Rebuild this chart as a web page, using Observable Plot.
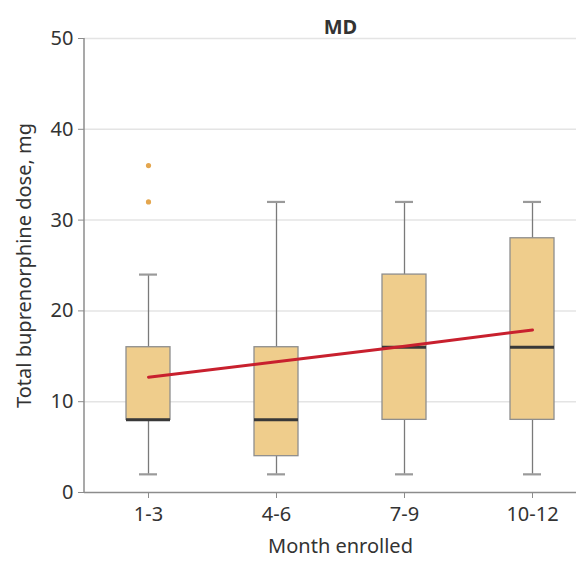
<!DOCTYPE html>
<html>
<head>
<meta charset="utf-8">
<script src="https://cdn.jsdelivr.net/npm/d3@7"></script>
<script src="https://cdn.jsdelivr.net/npm/@observablehq/plot@0.6"></script>
<style>
  body { margin: 0; background: #fff; overflow: hidden; }
</style>
</head>
<body>
<div id="chart"></div>
<script>
// Buprenorphine dose by enrollment quarter, MD prescribers
const months = ["1-3", "4-6", "7-9", "10-12"];
const whiskerLow = [2, 2, 2, 2];
const q1 = [8, 4, 8, 8];
const median = [8, 8, 16, 16];
const q3 = [16, 16, 24, 28];
const whiskerHigh = [24, 32, 32, 32];
const outlierMonth = ["1-3", "1-3"];
const outlierDose = [36, 32];
const trend = [12.7, 14.4, 16.1, 17.9];
const yTicks = [0, 10, 20, 30, 40, 50];

const boxes = months.map((m, i) => ({
  month: m, lo: whiskerLow[i], q1: q1[i], med: median[i], q3: q3[i], hi: whiskerHigh[i], trend: trend[i]
}));
const outliers = outlierMonth.map((m, i) => ({month: m, dose: outlierDose[i]}));

const FONT = "'Noto Sans', 'Open Sans', sans-serif";
const TEXT = "#333";
const AXIS = "#8c8c8c";

// vertical axis line along the left edge of the frame
const leftAxisLine = (index, scales, values, dims) => {
  const line = document.createElementNS("http://www.w3.org/2000/svg", "line");
  line.setAttribute("x1", dims.marginLeft);
  line.setAttribute("x2", dims.marginLeft);
  line.setAttribute("y1", dims.marginTop);
  line.setAttribute("y2", dims.height - dims.marginBottom);
  line.setAttribute("stroke", AXIS);
  line.setAttribute("stroke-width", 1.5);
  return line;
};

const chart = Plot.plot({
  width: 576,
  height: 562,
  marginLeft: 84,
  marginRight: 0,
  marginTop: 38,
  marginBottom: 70,
  style: {fontFamily: FONT, fontSize: "20px", color: TEXT, background: "#fff", overflow: "hidden"},
  x: {type: "band", domain: months, range: [84, 596], paddingInner: 0.656, paddingOuter: 0.328, axis: null},
  y: {domain: [0, 50], axis: null},
  marks: [
    Plot.ruleY(yTicks.slice(1), {stroke: "#e4e4e4", strokeWidth: 1.5}),
    Plot.ruleY([0], {stroke: AXIS, strokeWidth: 1.5}),
    leftAxisLine,
    Plot.axisY(yTicks, {tickSize: 6, tickPadding: 5, stroke: AXIS, fill: TEXT, fontSize: 20, label: null}),
    Plot.axisX({tickSize: 6, tickPadding: 8, stroke: AXIS, fill: TEXT, fontSize: 20, label: null}),
    // whiskers and caps
    Plot.ruleX(boxes, {x: "month", y1: "lo", y2: "hi", stroke: "#7a7a7a", strokeWidth: 1.3}),
    Plot.tickY(boxes, {x: "month", y: "lo", stroke: "#9a9a9a", strokeWidth: 2.2, insetLeft: 13, insetRight: 13}),
    Plot.tickY(boxes, {x: "month", y: "hi", stroke: "#9a9a9a", strokeWidth: 2.2, insetLeft: 13, insetRight: 13}),
    // interquartile boxes
    Plot.barY(boxes, {x: "month", y1: "q1", y2: "q3", fill: "#efcd8c", stroke: "#8e8e8e", strokeWidth: 1.3}),
    // medians
    Plot.tickY(boxes, {x: "month", y: "med", stroke: "#383838", strokeWidth: 3}),
    // outliers
    Plot.dot(outliers, {x: "month", y: "dose", r: 2.6, fill: "#e4a64e", stroke: null}),
    // linear trend
    Plot.line(boxes, {x: "month", y: "trend", stroke: "#c8202e", strokeWidth: 3}),
    // titles
    Plot.text(["MD"], {text: d => d, frameAnchor: "top", dx: 10, dy: -19, fontWeight: "bold", fontSize: 20, fill: TEXT}),
    Plot.text(["Total buprenorphine dose, mg"], {text: d => d, frameAnchor: "left", textAnchor: "middle", rotate: -90, dx: -60, fontSize: 20, fill: TEXT}),
    Plot.text(["Month enrolled"], {text: d => d, frameAnchor: "bottom", dx: 10, dy: 60, fontSize: 20, fill: TEXT})
  ]
});

document.getElementById("chart").appendChild(chart);
</script>
</body>
</html>
